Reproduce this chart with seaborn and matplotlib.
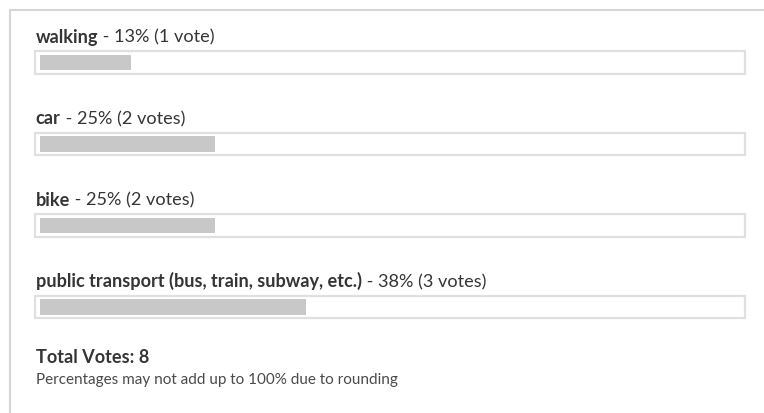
import numpy as np
import pandas as pd
import matplotlib
matplotlib.use("Agg")
import matplotlib.pyplot as plt
from matplotlib.lines import Line2D
import seaborn as sns

# poll results
options = ["walking", "car", "bike", "public transport (bus, train, subway, etc.)"]
percents = [13, 25, 25, 38]
votes = [1, 2, 2, 3]
note = "Percentages may not add up to 100% due to rounding"

sns.set_theme(style="white")
plt.rcParams["font.family"] = ["Lato", "DejaVu Sans"]

df = pd.DataFrame({"option": options, "percent": percents, "votes": votes})
total = int(df["votes"].sum())

W, H = 764, 414
fig = plt.figure(figsize=(W / 100, H / 100), dpi=100)
fig.patch.set_facecolor("white")

# axes placed so x=0 -> 40px, x=100 -> 740px, rows spaced 81.5px
row = 81.5
y0 = 63.5 - row / 2
y1 = y0 + row * len(options)
ax = fig.add_axes([40 / W, 1 - y1 / H, 700 / W, (y1 - y0) / H])

# track behind each bar
pad = 0.7
ax.barh(df["option"], [100 + 2 * pad] * len(df), left=-pad, height=0.27,
        color="white", edgecolor="#e0e0e0", linewidth=1.6, clip_on=False, zorder=1)

sns.barplot(data=df, x="percent", y="option", orient="h", color="#c8c8c8",
            width=0.185, saturation=1, linewidth=0, ax=ax, zorder=2)

ax.set_xlim(0, 100)
ax.set_ylim(len(options) - 0.5, -0.5)
ax.axis("off")

txt = "#353535"
fs = 13.1
for i, r in df.iterrows():
    word = "vote" if r["votes"] == 1 else "votes"
    t = ax.text(-0.6, i - 0.255, r["option"], fontsize=fs, fontweight="bold",
                color=txt, va="baseline", ha="left")
    ax.annotate(f" - {r['percent']}% ({r['votes']} {word})", xy=(1, i - 0.255),
                xycoords=(t, "data"), fontsize=fs, color=txt,
                va="baseline", ha="left")

fig.text(36 / W, 1 - 363 / H, f"Total Votes: {total}", fontsize=fs,
         fontweight="bold", color=txt, va="baseline")
fig.text(36 / W, 1 - 384 / H, note, fontsize=11, color="#4a4a4a", va="baseline")

# card border (top and left edges)
fig.add_artist(Line2D([10 / W, 1], [1 - 11 / H, 1 - 11 / H], color="#d6d6d6", lw=1.5))
fig.add_artist(Line2D([10 / W, 10 / W], [1 - 11 / H, 0], color="#d6d6d6", lw=1.5))

fig.savefig("out.png", dpi=100, facecolor="white")
